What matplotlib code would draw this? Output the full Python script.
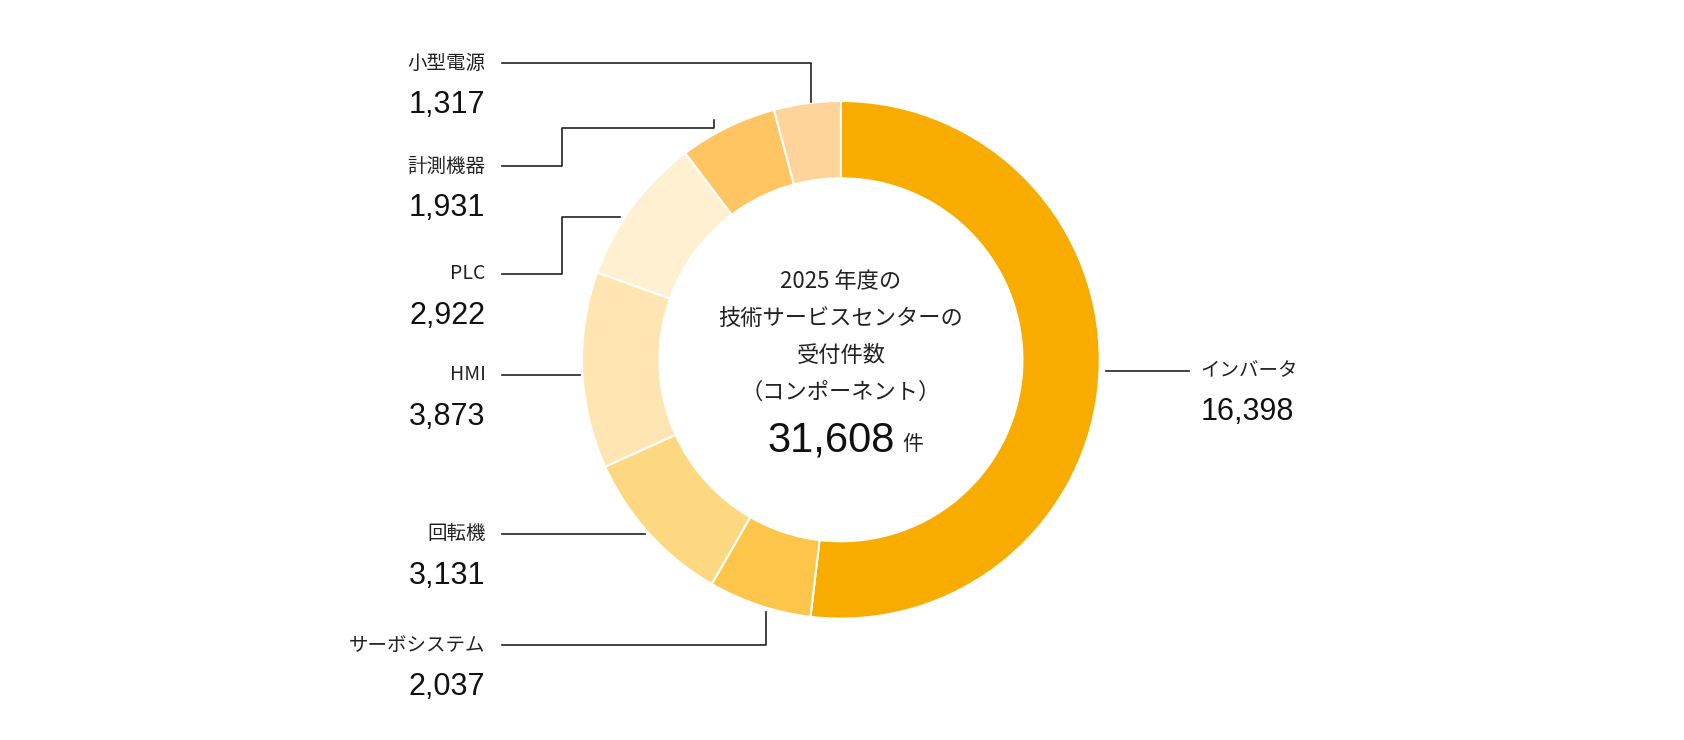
import matplotlib
matplotlib.use("Agg")
import matplotlib.pyplot as plt

plt.rcParams['font.family'] = ['Noto Sans CJK JP', 'DejaVu Sans']

# data (clockwise from top)
names = ['インバータ', 'サーボシステム', '回転機', 'HMI', 'PLC', '計測機器', '小型電源']
values = [16398, 2037, 3131, 3873, 2922, 1931, 1317]
value_labels = ['16,398', '2,037', '3,131', '3,873', '2,922', '1,931', '1,317']
colors = ['#F9AC00', '#FDC54A', '#FED880', '#FEE5B2', '#FFF0D2', '#FEC562', '#FED49A']
total_label = '31,608'

# layout in reference pixel units (1568 x 689)
W, H = 1568, 689
cx, cy, r_out, width = 783, 335, 241, 72

label_pos = {
    'インバータ': (1118, 345, 'left'),
    'サーボシステム': (452, 601, 'right'),
    '回転機': (452, 497, 'right'),
    'HMI': (452, 349, 'right'),
    'PLC': (452, 255, 'right'),
    '計測機器': (452, 155, 'right'),
    '小型電源': (452, 59, 'right'),
}
leaders = {
    'インバータ': [(1030, 345), (1107, 345)],
    'サーボシステム': [(467, 601), (713, 601), (713, 570)],
    '回転機': [(467, 497), (601, 497)],
    'HMI': [(467, 349), (540, 349)],
    'PLC': [(467, 255), (523, 255), (523, 202), (577, 202)],
    '計測機器': [(467, 155), (523, 155), (523, 119), (665, 119), (665, 112)],
    '小型電源': [(467, 59), (755, 59), (755, 95)],
}

fig = plt.figure(figsize=(16.84, 7.4), dpi=100)
ax = fig.add_axes([0, 0, 1, 1])

ax.pie(values, colors=colors, startangle=-90, counterclock=True,
       center=(cx, cy), radius=r_out, frame=True,
       wedgeprops=dict(width=width, edgecolor='white', linewidth=1.5))
ax.set_xlim(0, W)
ax.set_ylim(H, 0)
ax.set_aspect('equal')
ax.axis('off')

num_font = ['Liberation Sans', 'DejaVu Sans']
for n, v in zip(names, value_labels):
    x, y, ha = label_pos[n]
    ax.text(x, y, n, ha=ha, va='center', fontsize=14, color='#222222')
    ax.text(x, y + 39, v, ha=ha, va='center', fontsize=22, color='#111111',
            family=num_font)
    pts = leaders[n]
    ax.plot([p[0] for p in pts], [p[1] for p in pts], color='#222222', lw=1.2)

center_lines = ['2025 年度の', '技術サービスセンターの', '受付件数', '（コンポーネント）']
for i, t in enumerate(center_lines):
    ax.text(cx, 262 + i * 34.5, t, ha='center', va='center', fontsize=16, color='#222222')
ax.text(cx + 50, 410, total_label, ha='right', va='center', fontsize=30, color='#111111',
        family=num_font)
ax.text(cx + 57, 413, '件', ha='left', va='center', fontsize=15, color='#222222')

fig.savefig('out.png', dpi=100, facecolor='white')
